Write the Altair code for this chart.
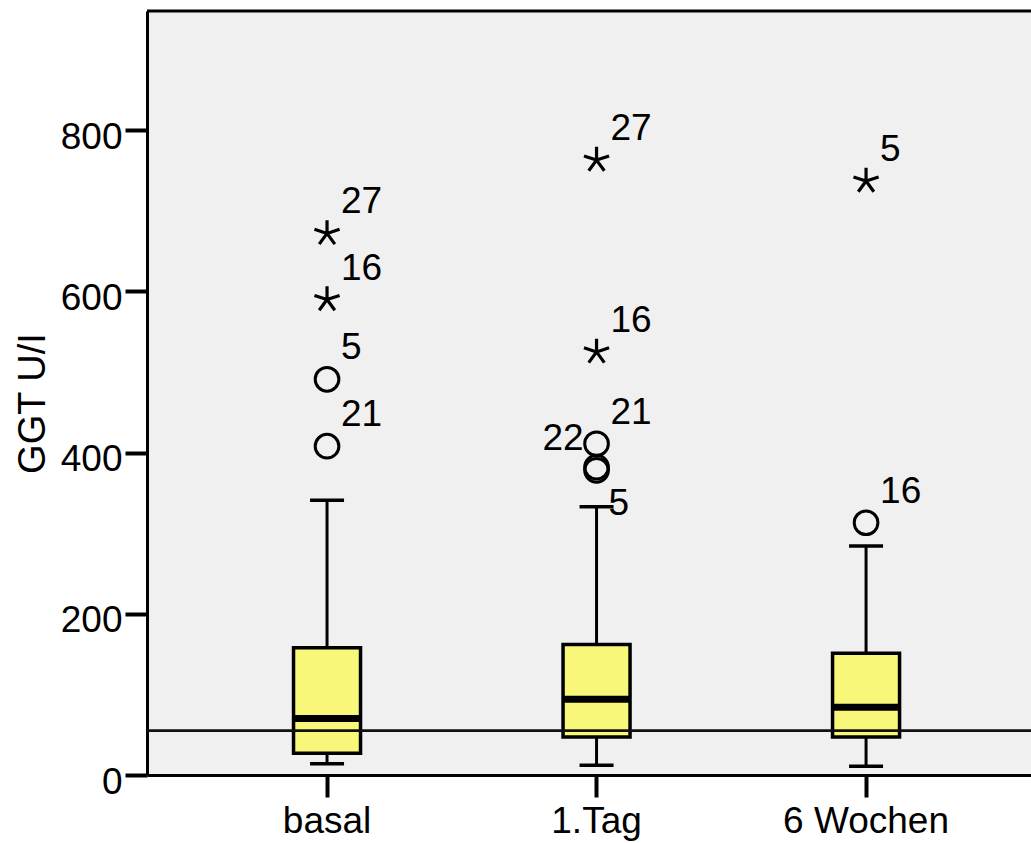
import altair as alt
import pandas as pd

# GGT (U/l) at three time points: box statistics per group
categories = ["basal", "1.Tag", "6 Wochen"]
whisker_low = [14, 12, 11]
quartile_1 = [27, 47, 47]
medians = [70, 94, 84]
quartile_3 = [158, 162, 151]
whisker_high = [341, 333, 284]

# upper reference limit
reference_value = [55]

# outliers (circles) with case numbers
outlier_group = ["basal", "basal", "1.Tag", "1.Tag", "1.Tag", "6 Wochen"]
outlier_value = [408, 491, 411, 382, 378, 313]
outlier_case = ["21", "5", "21", "22", "5", "16"]

# extreme values (stars) with case numbers
extreme_group = ["basal", "basal", "1.Tag", "1.Tag", "6 Wochen"]
extreme_value = [590, 672, 525, 763, 737]
extreme_case = ["16", "27", "16", "27", "5"]

y_ticks = [0, 200, 400, 600, 800]

FONT = "Liberation Sans"
W, H = 884, 764

boxes = pd.DataFrame({
    "group": categories,
    "low": whisker_low,
    "q1": quartile_1,
    "median": medians,
    "q3": quartile_3,
    "high": whisker_high,
})
outliers = pd.DataFrame({"group": outlier_group, "value": outlier_value, "case": outlier_case})
extremes = pd.DataFrame({"group": extreme_group, "value": extreme_value, "case": extreme_case})
labels = pd.concat([outliers, extremes], ignore_index=True)
ref = pd.DataFrame({"value": reference_value})

x_scale = alt.Scale(domain=categories, paddingInner=0, paddingOuter=0.14, align=0.6)
y_scale = alt.Scale(domain=[0, 948], nice=False, zero=True)

x_enc = alt.X(
    "group:N", sort=categories, scale=x_scale,
    axis=alt.Axis(title=None, labelAngle=0, labelPadding=6, tickSize=22),
)
y_axis = alt.Axis(
    title="GGT U/I", values=y_ticks, format="d", grid=False, tickSize=22,
    labelPadding=3, labelOffset=7, titleX=-103, titleY=392,
    titleBaseline="alphabetic", titleAlign="center", titleAngle=270,
    titleFontSize=38, titleFont=FONT, titleFontWeight="normal", titleColor="black",
)

base = alt.Chart(boxes)

lower_whisker = base.mark_rule(color="black", strokeWidth=3, opacity=1).encode(
    x=x_enc, y=alt.Y("low:Q", scale=y_scale, axis=y_axis), y2="q1:Q"
)
upper_whisker = base.mark_rule(color="black", strokeWidth=3, opacity=1).encode(
    x=x_enc, y=alt.Y("q3:Q", scale=y_scale), y2="high:Q"
)
caps_low = base.mark_tick(color="black", size=34, thickness=3.5, opacity=1).encode(
    x=x_enc, y=alt.Y("low:Q", scale=y_scale)
)
caps_high = base.mark_tick(color="black", size=34, thickness=3.5, opacity=1).encode(
    x=x_enc, y=alt.Y("high:Q", scale=y_scale)
)
box = base.mark_bar(size=67, fill="#F9F77A", stroke="black", strokeWidth=3.5, opacity=1).encode(
    x=x_enc, y=alt.Y("q1:Q", scale=y_scale), y2="q3:Q"
)
reference = alt.Chart(ref).mark_rule(color="#111111", strokeWidth=2.7, opacity=1).encode(
    y=alt.Y("value:Q", scale=y_scale)
)
median_line = base.mark_tick(color="black", size=67, thickness=7, opacity=1).encode(
    x=x_enc, y=alt.Y("median:Q", scale=y_scale)
)

circles = alt.Chart(outliers).mark_point(
    shape="circle", size=560, filled=False, color="black", strokeWidth=3, opacity=1
).encode(x=x_enc, y=alt.Y("value:Q", scale=y_scale))

star_path = "M0,-1L0,0M0,0L0.95,-0.31M0,0L0.59,0.81M0,0L-0.59,0.81M0,0L-0.95,-0.31"
stars = alt.Chart(extremes).mark_point(
    shape=star_path, size=700, filled=False, color="black", strokeWidth=3.2, opacity=1
).encode(x=x_enc, y=alt.Y("value:Q", scale=y_scale))

is_left = "datum.group == '1.Tag' && datum.case == '22'"
is_below = "datum.group == '1.Tag' && datum.case == '5'"
text_style = dict(font=FONT, fontSize=37, color="black", baseline="alphabetic")

labels_ne = alt.Chart(labels).transform_filter(
    f"!({is_left}) && !({is_below})"
).mark_text(align="left", dx=14, dy=-20, **text_style).encode(
    x=x_enc, y=alt.Y("value:Q", scale=y_scale), text="case:N"
)
labels_w = alt.Chart(labels).transform_filter(is_left).mark_text(
    align="right", dx=-13, dy=-17, **text_style
).encode(x=x_enc, y=alt.Y("value:Q", scale=y_scale), text="case:N")
labels_se = alt.Chart(labels).transform_filter(is_below).mark_text(
    align="left", dx=12, dy=45, **text_style
).encode(x=x_enc, y=alt.Y("value:Q", scale=y_scale), text="case:N")

top_border = alt.Chart(ref).mark_rule(color="black", strokeWidth=3, opacity=1).encode(
    y=alt.value(0)
)

chart = alt.layer(
    lower_whisker, upper_whisker, caps_low, caps_high, box, reference,
    median_line, circles, stars, labels_ne, labels_w, labels_se, top_border,
).properties(
    width=W, height=H,
    autosize=alt.AutoSizeParams(type="none"),
    padding={"left": 147, "top": 11, "right": 0, "bottom": 68},
    background="white",
).configure_view(
    fill="#F0F0F0", stroke=None
).configure_axis(
    labelFont=FONT, labelFontSize=37, labelColor="black",
    domainColor="black", domainWidth=3, tickColor="black", tickWidth=4,
)

chart.save("out.html", embed_options={"renderer": "svg", "actions": False})
